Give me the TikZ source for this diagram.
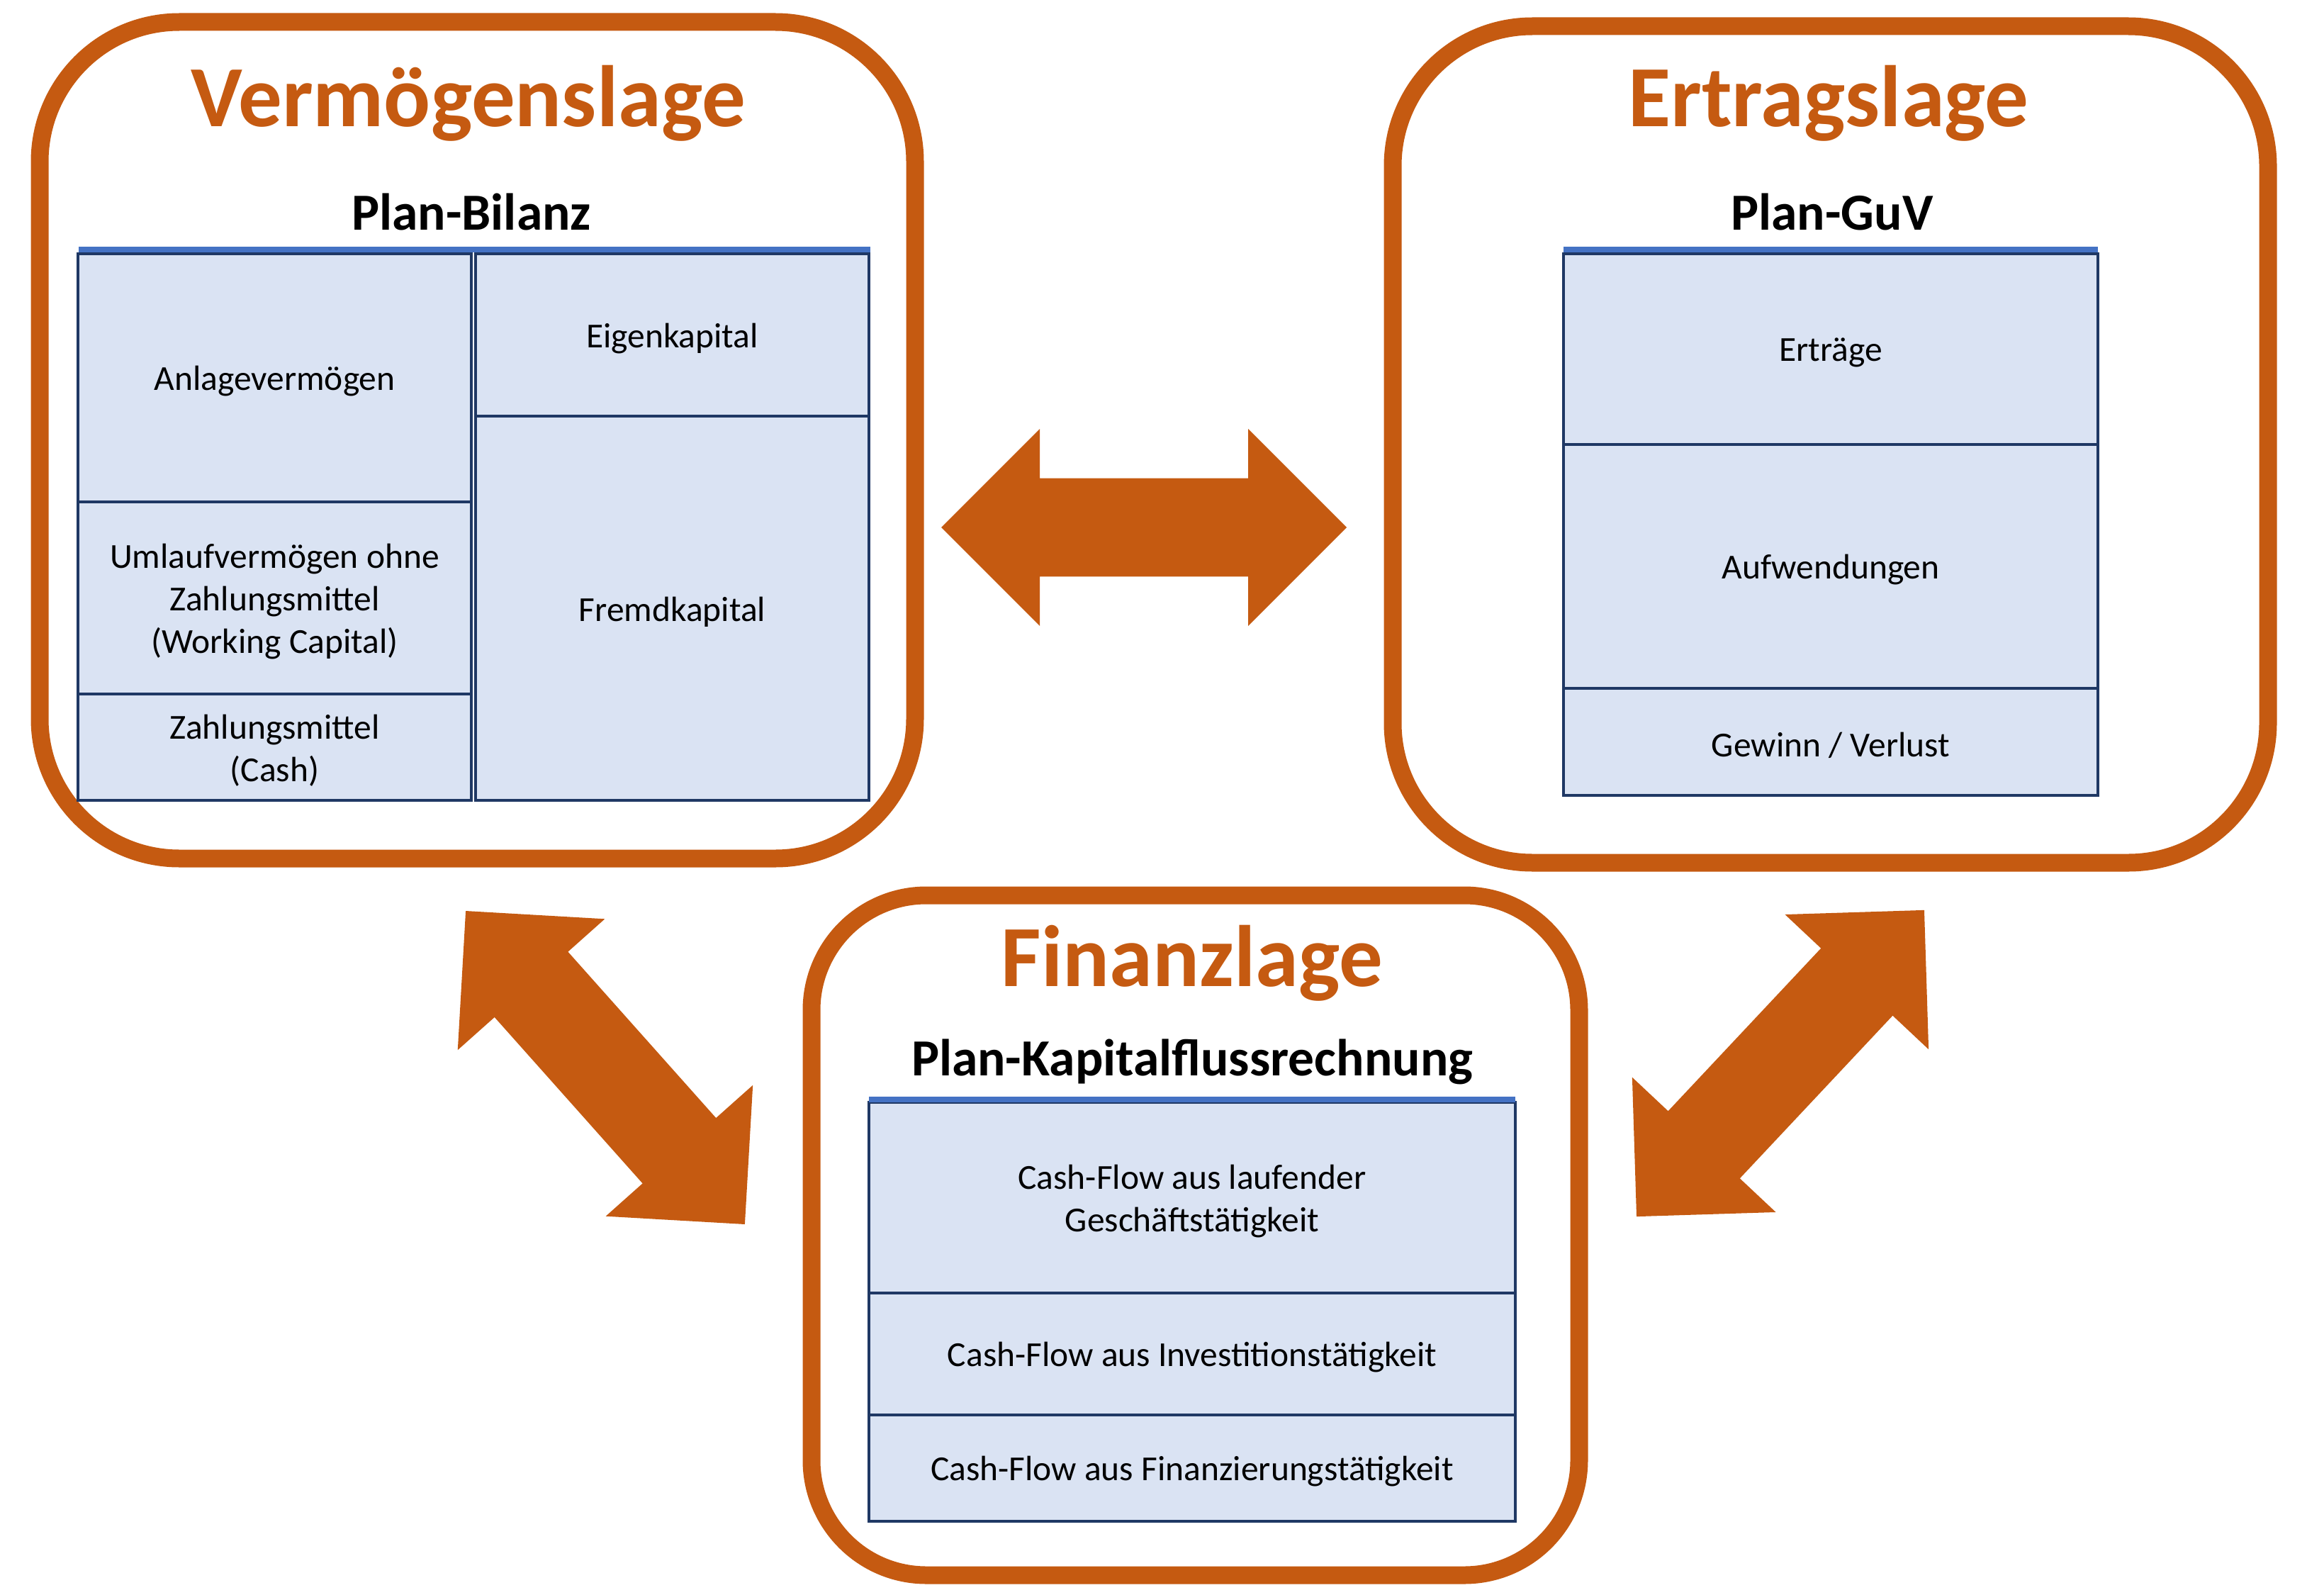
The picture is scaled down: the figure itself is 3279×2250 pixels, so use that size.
\documentclass[tikz,border=0pt]{standalone}
\usepackage{fontspec}
\setmainfont{Carlito}
\definecolor{orng}{HTML}{C55A11}
\definecolor{cellfill}{HTML}{DAE3F3}
\definecolor{celldraw}{HTML}{1F3864}
\definecolor{headblue}{HTML}{4472C4}
\newcommand\dblarrowshape[4]{%
  \begin{scope}[shift={(#1,#2)}, rotate=#3]
    \fill[orng] (-#4,0) -- (-#4+139,-139) -- (-#4+139,-69.4) -- (#4-139,-69.4)
      -- (#4-139,-139) -- (#4,0) -- (#4-139,139) -- (#4-139,69.4)
      -- (-#4+139,69.4) -- (-#4+139,139) -- cycle;
  \end{scope}}
\begin{document}
\begin{tikzpicture}[x=1pt,y=-1pt,
  lagebox/.style={draw=orng, line width=25pt, fill=white, inner sep=0pt},
  lagetitle/.style={text=orng, font=\fontsize{123}{148}\selectfont\bfseries, inner sep=0pt, anchor=base},
  plantitle/.style={text=black, font=\fontsize{73.5}{88}\selectfont\bfseries, inner sep=0pt, anchor=base},
  cell/.style={draw=celldraw, fill=cellfill, line width=4.5pt, inner sep=0pt},
  celltext/.style={inner sep=0pt, align=center, font=\fontsize{49.5}{60}\selectfont, yshift=-5pt},
  headline/.style={draw=headblue, line width=8pt}
]
\useasboundingbox (0,0) rectangle (3279,2250);

% ---------- boxes ----------
\node[lagebox, rounded corners=197pt, minimum width=1235pt, minimum height=1180pt] (verm) at (673.5,621) {};
\node[lagebox, rounded corners=197pt, minimum width=1235pt, minimum height=1180pt] (ertr) at (2582.5,627) {};
\node[lagebox, rounded corners=162pt, minimum width=1083pt, minimum height=959pt] (fin) at (1686.5,1742.5) {};

% ---------- titles ----------
\node[lagetitle] (vt) at (661,179) {Vermögenslage};
\node[lagetitle] (et) at (2580,179) {Ertragslage};
\node[lagetitle] (ft) at (1682,1391) {Finanzlage};

\node[plantitle] (vp) at (665,324) {Plan-Bilanz};
\node[plantitle] (ep) at (2585,324) {Plan-GuV};
\node[plantitle] (fp) at (1682,1517) {Plan-Kapitalflussrechnung};

% ---------- Plan-Bilanz ----------
\node[cell, minimum width=555pt, minimum height=350pt] (anl) at (387.5,533) {};
\node[cell, minimum width=555pt, minimum height=271pt] (uml) at (387.5,843.5) {};
\node[cell, minimum width=555pt, minimum height=150pt] (zm) at (387.5,1054) {};
\node[cell, minimum width=555pt, minimum height=229pt] (ek) at (948.5,472.5) {};
\node[cell, minimum width=555pt, minimum height=542pt] (fk) at (948.5,858) {};
\node[celltext] (anlT) at (anl.center) {Anlagevermögen};
\node[celltext] (umlT) at (uml.center) {Umlaufvermögen ohne\\Zahlungsmittel\\(Working Capital)};
\node[celltext] (zmT) at (zm.center) {Zahlungsmittel\\(Cash)};
\node[celltext] (ekT) at (ek.center) {Eigenkapital};
\node[celltext] (fkT) at (fk.center) {Fremdkapital};
\coordinate (vl1) at (111,352);
\coordinate (vl2) at (1228,352);
\draw[headline] (vl1) -- (vl2);

% ---------- Plan-GuV ----------
\node[cell, minimum width=754pt, minimum height=269pt] (ert) at (2583,492.5) {};
\node[cell, minimum width=754pt, minimum height=344pt] (aufw) at (2583,799) {};
\node[cell, minimum width=754pt, minimum height=151pt] (gv) at (2583,1046.5) {};
\node[celltext] (ertT) at (ert.center) {Erträge};
\node[celltext] (aufwT) at (aufw.center) {Aufwendungen};
\node[celltext] (gvT) at (gv.center) {Gewinn / Verlust};
\coordinate (el1) at (2206,352);
\coordinate (el2) at (2960,352);
\draw[headline] (el1) -- (el2);

% ---------- Plan-Kapitalflussrechnung ----------
\node[cell, minimum width=912pt, minimum height=269pt] (cfl) at (1682,1689.5) {};
\node[cell, minimum width=912pt, minimum height=172pt] (cfi) at (1682,1910) {};
\node[cell, minimum width=912pt, minimum height=150pt] (cff) at (1682,2071) {};
\node[celltext] (cflT) at (cfl.center) {Cash-Flow aus laufender\\Geschäftstätigkeit};
\node[celltext] (cfiT) at (cfi.center) {Cash-Flow aus Investitionstätigkeit};
\node[celltext] (cffT) at (cff.center) {Cash-Flow aus Finanzierungstätigkeit};
\coordinate (fl1) at (1226,1551);
\coordinate (fl2) at (2138,1551);
\draw[headline] (fl1) -- (fl2);

% ---------- double arrows ----------
\dblarrowshape{1614}{744}{0}{286}
\dblarrowshape{854}{1506}{-48.3}{296}
\dblarrowshape{2512}{1500}{46.8}{296.5}
\end{tikzpicture}
\end{document}
